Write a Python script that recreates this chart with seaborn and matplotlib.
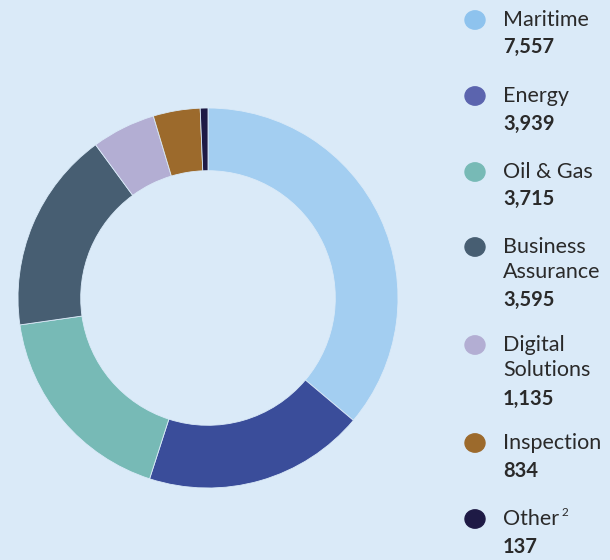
import matplotlib
matplotlib.use("Agg")
import matplotlib.pyplot as plt
import seaborn as sns

categories = ["Maritime", "Energy", "Oil & Gas", "Business\nAssurance", "Digital\nSolutions", "Inspection", "Other"]
values = [7557, 3939, 3715, 3595, 1135, 834, 137]
value_labels = ["7,557", "3,939", "3,715", "3,595", "1,135", "834", "137"]
colors = ["#A3CEF1", "#3A4D9A", "#77BAB6", "#475E72", "#B3AED3", "#9C6A2C", "#1E1A45"]
legend_colors = ["#8EC3EE", "#5B64AE", "#77BAB6", "#475E72", "#B3AED3", "#9C6A2C", "#1E1A45"]

sns.set_theme(style="white")
plt.rcParams['font.family'] = ['Lato', 'DejaVu Sans']

bg = "#DAEAF8"
fig = plt.figure(figsize=(6.1, 5.6), dpi=100, facecolor=bg)
W, H = 610, 560
cx, cy, r = 208, 298, 190
ax = fig.add_axes([(cx - r) / W, (H - cy - r) / H, 2 * r / W, 2 * r / H])
ax.set_facecolor(bg)
ax.pie(values, colors=colors, startangle=90, counterclock=False, radius=1,
       wedgeprops=dict(width=0.33, edgecolor=bg, linewidth=0.6))
ax.set_xlim(-1, 1)
ax.set_ylim(-1, 1)
ax.set_aspect("equal")
ax.axis("off")

# legend
marker_y = [20, 96, 172, 247, 345, 443, 519]
value_y = [47, 124, 199, 300, 399, 471, 547]
line_gap = 25
text_col = "#2A2A2A"
for name, val, col, my, vy in zip(categories, value_labels, legend_colors, marker_y, value_y):
    fig.patches.append(plt.Circle((475 / W, 1 - my / H), 10 / W, transform=fig.transFigure,
                                  color=col, figure=fig))
    for i, line in enumerate(name.split("\n")):
        fig.text(503 / W, 1 - (my + i * line_gap) / H, line, fontsize=15.5, color=text_col,
                 va="center", ha="left")
    fig.text(503 / W, 1 - vy / H, val, fontsize=14.5, fontweight="bold", color=text_col,
             va="center", ha="left")
fig.text(561 / W, 1 - 512 / H, "2", fontsize=8.5, color=text_col, va="center", ha="left")

fig.savefig("out.png", dpi=100, facecolor=bg)
